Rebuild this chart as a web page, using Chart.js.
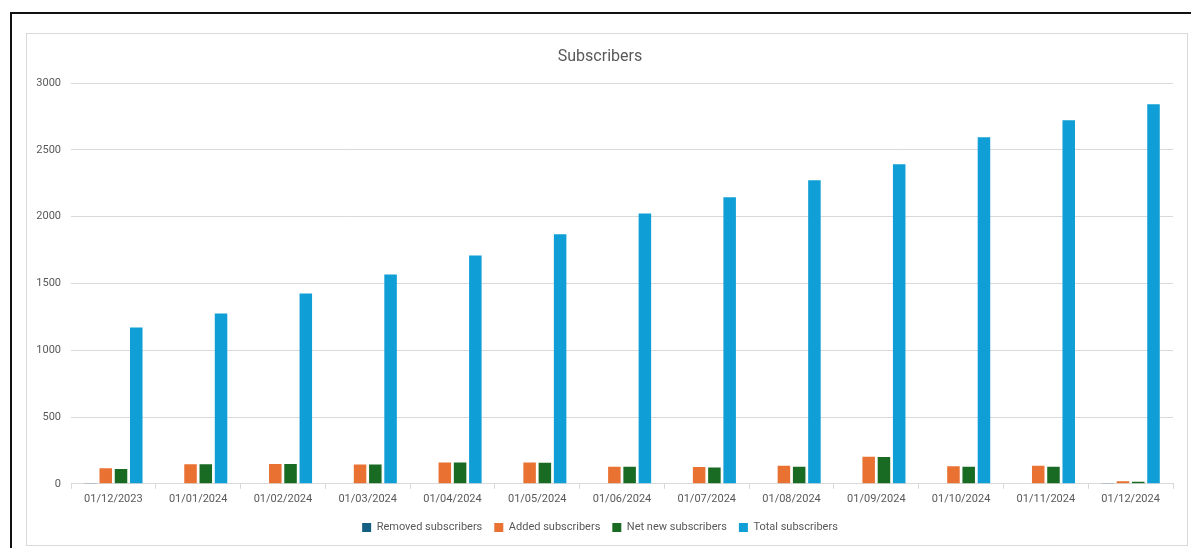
<!DOCTYPE html>
<html>
<head>
<meta charset="utf-8">
<script src="https://cdn.jsdelivr.net/npm/chart.js@4/dist/chart.umd.min.js"></script>
<style>
  html, body { margin: 0; padding: 0; background: #fff; width: 1191px; height: 548px; overflow: hidden; }
  #frame { position: absolute; left: 10px; top: 12px; width: 1200px; height: 560px; border: 2px solid #111; box-sizing: border-box; }
  #box { position: absolute; left: 26px; top: 33px; width: 1162px; height: 513px; border: 1px solid #d9d9d9; box-sizing: border-box; background: #fff; }
  #chart { position: absolute; left: 0; top: 0; }
</style>
</head>
<body>
<div id="frame"></div>
<div id="box"><canvas id="chart" width="1160" height="511"></canvas></div>
<script>
// ── Data ────────────────────────────────────────────────────────────────────
const months  = ['01/12/2023', '01/01/2024', '01/02/2024', '01/03/2024', '01/04/2024', '01/05/2024',
                 '01/06/2024', '01/07/2024', '01/08/2024', '01/09/2024', '01/10/2024', '01/11/2024', '01/12/2024'];
const removed = [3, 0, 0, 0, 0, 0, 0, 0, 5, 0, 0, 5, 2];
const added   = [117, 147, 148, 145, 160, 160, 127, 125, 135, 202, 132, 135, 20];
const netNew  = [110, 147, 148, 145, 160, 157, 127, 123, 128, 200, 128, 128, 15];
const total   = [1170, 1275, 1425, 1568, 1710, 1868, 2025, 2145, 2273, 2393, 2595, 2723, 2843];
const yTicks  = [0, 500, 1000, 1500, 2000, 2500, 3000];

const FONT = 'Roboto, "Liberation Sans", sans-serif';
const GREY = '#595959';

const bar = (label, data, color) => ({
  label, data,
  backgroundColor: color,
  borderWidth: 0,
  categoryPercentage: 0.72,
  barPercentage: 0.82,
});

new Chart(document.getElementById('chart'), {
  type: 'bar',
  data: {
    labels: months,
    datasets: [
      bar('Removed subscribers', removed, '#156082'),
      bar('Added subscribers',   added,   '#E97132'),
      bar('Net new subscribers', netNew,  '#196B24'),
      bar('Total subscribers',   total,   '#0F9ED5'),
    ],
  },
  options: {
    responsive: false,
    animation: false,
    layout: { padding: { left: 0, right: 14, top: 0, bottom: 2 } },
    plugins: {
      title: {
        display: true,
        text: 'Subscribers',
        color: GREY,
        font: { family: FONT, size: 16, weight: 'normal' },
        padding: { top: 13, bottom: 17 },
      },
      legend: {
        position: 'bottom',
        labels: {
          color: GREY,
          font: { family: FONT, size: 11 },
          boxWidth: 9,
          boxHeight: 9,
          padding: 12,
        },
      },
      tooltip: { enabled: false },
    },
    scales: {
      x: {
        grid: { drawOnChartArea: false, color: '#d9d9d9', tickLength: 5, offset: true },
        border: { color: '#d9d9d9' },
        ticks: { color: GREY, font: { family: FONT, size: 11 }, padding: 4, maxRotation: 0 },
      },
      y: {
        min: 0,
        max: 3000,
        afterBuildTicks: axis => { axis.ticks = yTicks.map(v => ({ value: v })); },
        afterFit: axis => { axis.width = 44; },
        grid: { color: '#d9d9d9', drawTicks: false },
        border: { display: false },
        ticks: { color: GREY, font: { family: FONT, size: 11 }, padding: 10, callback: v => String(v) },
      },
    },
  },
});
</script>
</body>
</html>
